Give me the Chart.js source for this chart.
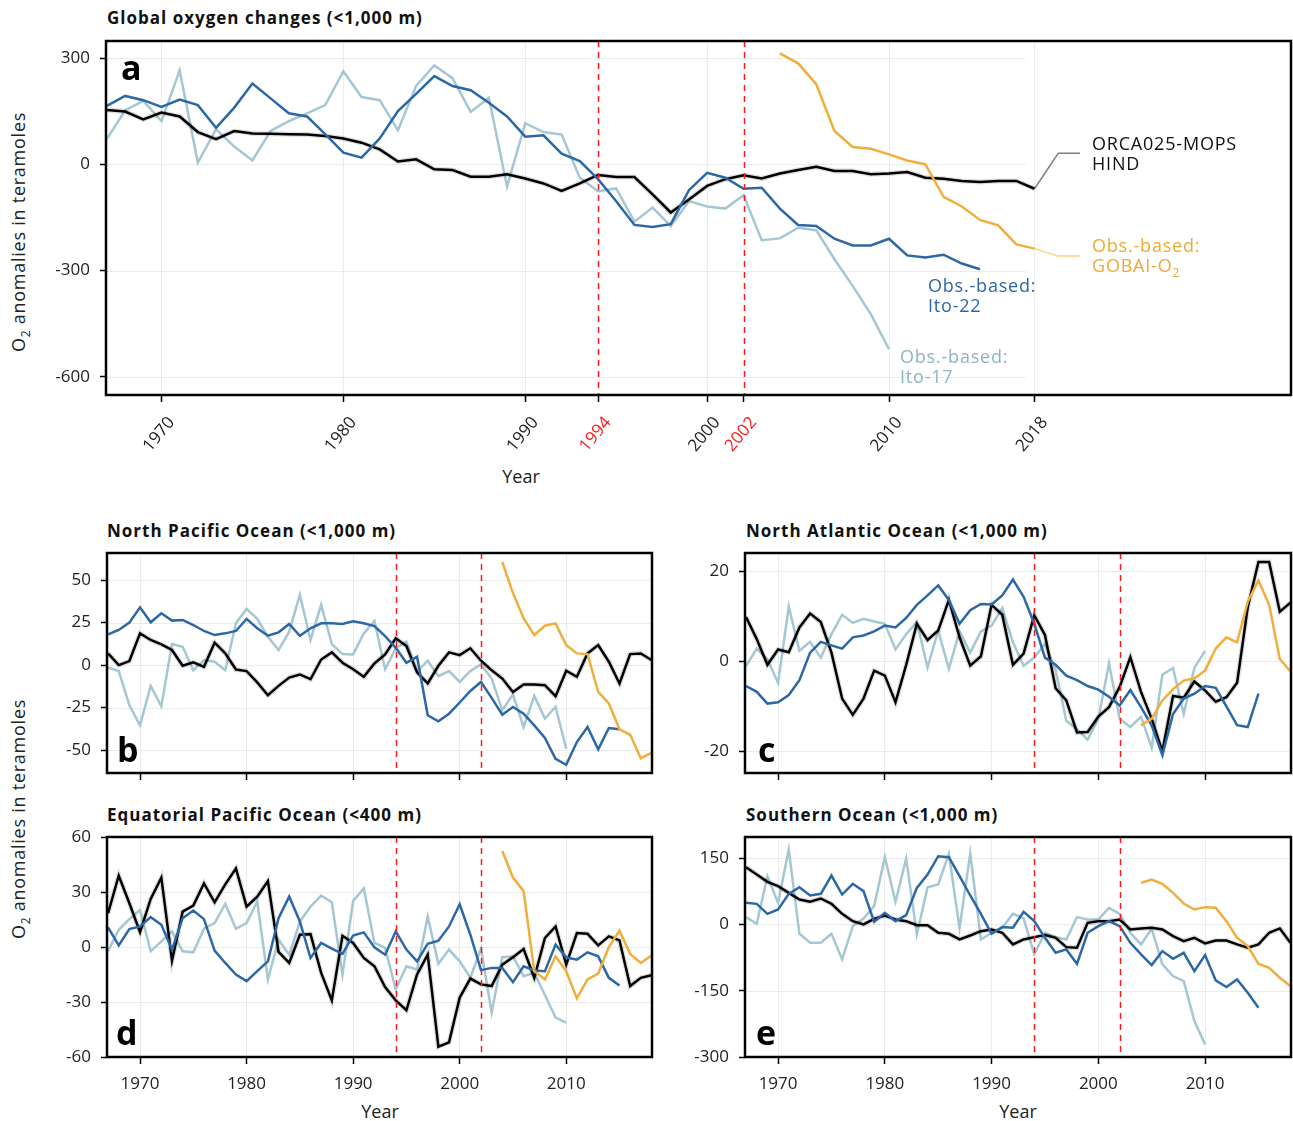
<!DOCTYPE html>
<html lang="en">
<head>
<meta charset="utf-8">
<title>Global oxygen changes</title>
<script src="https://cdn.jsdelivr.net/npm/chart.js@4.4.1/dist/chart.umd.min.js"></script>
<style>
  html, body { margin: 0; padding: 0; background: #fff; }
  #page { position: relative; width: 1293px; height: 1121px; overflow: hidden; font-family: "Open Sans", sans-serif; color: #111; }
  canvas { position: absolute; }
  .title { position: absolute; font-size: 17px; font-weight: 700; line-height: 20px; letter-spacing: 1px; white-space: nowrap; }
  .note { position: absolute; font-size: 18px; line-height: 20px; letter-spacing: 0.8px; white-space: nowrap; }
  .axis { position: absolute; font-size: 18px; line-height: 20px; white-space: nowrap; transform: translateX(-50%); color: #222; }
  .ytitle { position: absolute; width: 300px; height: 20px; text-align: center; font-size: 18px; line-height: 20px; letter-spacing: 0.75px; white-space: nowrap; transform: rotate(-90deg); color: #222; }
  sub { font-size: 12px; line-height: 0; }
</style>
</head>
<body>
<div id="page">
  <div class="title" style="left:107px;top:8px">Global oxygen changes (&lt;1,000 m)</div>
  <div class="title" style="left:107px;top:521px">North Pacific Ocean (&lt;1,000 m)</div>
  <div class="title" style="left:746px;top:521px">North Atlantic Ocean (&lt;1,000 m)</div>
  <div class="title" style="left:107px;top:805px">Equatorial Pacific Ocean (&lt;400 m)</div>
  <div class="title" style="left:746px;top:805px">Southern Ocean (&lt;1,000 m)</div>

  <canvas id="chartA" width="1257" height="416" style="left:36px;top:39px"></canvas>
  <canvas id="chartB" width="623" height="270" style="left:37px;top:543px"></canvas>
  <canvas id="chartC" width="618" height="270" style="left:675px;top:543px"></canvas>
  <canvas id="chartD" width="623" height="270" style="left:37px;top:827px"></canvas>
  <canvas id="chartE" width="618" height="270" style="left:675px;top:827px"></canvas>

  <div class="ytitle" style="left:-132px;top:222px">O<sub>2</sub> anomalies in teramoles</div>
  <div class="ytitle" style="left:-132px;top:809px">O<sub>2</sub> anomalies in teramoles</div>
  <div class="axis" style="left:521px;top:466px">Year</div>
  <div class="axis" style="left:380px;top:1101px">Year</div>
  <div class="axis" style="left:1018px;top:1101px">Year</div>

  <div class="note" style="left:1092px;top:133px;color:#111">ORCA025-MOPS<br>HIND</div>
  <div class="note" style="left:1092px;top:235px;color:#eea932">Obs.-based:<br>GOBAI-O<sub>2</sub></div>
  <div class="note" style="left:928px;top:275px;color:#2c67a6">Obs.-based:<br>Ito-22</div>
  <div class="note" style="left:900px;top:346px;color:#8db4c4">Obs.-based:<br>Ito-17</div>
</div>

<script>
// années
const years = [1967, 1968, 1969, 1970, 1971, 1972, 1973, 1974, 1975, 1976,
    1977, 1978, 1979, 1980, 1981, 1982, 1983, 1984, 1985, 1986,
    1987, 1988, 1989, 1990, 1991, 1992, 1993, 1994, 1995, 1996,
    1997, 1998, 1999, 2000, 2001, 2002, 2003, 2004, 2005, 2006,
    2007, 2008, 2009, 2010, 2011, 2012, 2013, 2014, 2015, 2016,
    2017, 2018];
const gobaiYears = [2004, 2005, 2006, 2007, 2008, 2009, 2010, 2011, 2012, 2013, 2014, 2015, 2016, 2017, 2018];
const tickYearsA = [1970, 1980, 1990, 1994, 2000, 2002, 2010, 2018];
const tickYearsB = [1970, 1980, 1990, 2000, 2010];
const redYears = [1994, 2002];

// a: global (<1000 m)
const hindA = [153, 149, 127, 146, 135, 91, 71, 94, 87, 86,
    85, 84, 80, 73, 61, 42, 8, 14, -14, -16,
    -35, -35, -28, -40, -54, -75, -54, -30, -36, -36,
    -85, -136, -99, -61, -42, -31, -40, -26, -16, -7,
    -19, -19, -28, -26, -22, -38, -41, -47, -50, -47,
    -47, -69];
const ito22A = [165, 193, 181, 162, 183, 167, 103, 160, 228, 186,
    144, 135, 85, 33, 19, 73, 150, 199, 249, 221,
    209, 174, 135, 78, 82, 30, 9, -42, -104, -171,
    -177, -169, -73, -24, -38, -69, -66, -125, -171, -174,
    -210, -229, -229, -210, -257, -263, -255, -280, -296];
const ito17A = [72, 152, 179, 122, 265, 5, 99, 50, 11, 94,
    122, 144, 167, 262, 190, 181, 96, 221, 279, 243,
    148, 188, -63, 116, 91, 84, -38, -76, -68, -162,
    -122, -174, -104, -119, -125, -87, -214, -209, -179, -186,
    -268, -343, -423, -522];
const gobaiA = [313, 285, 226, 94, 49, 44, 28, 11, 0, -92, -119, -157, -172, -226, -238];
const hindLinkX = [2018, 2019.3, 2020.5];
const hindLinkY = [-69, 31, 31];
const gobaiFadeX = [2018, 2019.3, 2020.5];
const gobaiFadeY = [-238, -259, -259];

// b: North Pacific
const hindB = [6.9, 0, 2.4, 18.7, 14.8, 12.2, 8.9, -0.4, 1.6, -1,
    13.2, 6.9, -2.6, -3.5, -10.2, -17.7, -12.2, -7.3, -5.5, -8.3,
    3.3, 7.5, 1.4, -2.4, -6.9, 1, 6.3, 15.8, 11.2, -4.3,
    -10.8, -0.4, 7.5, 5.9, 9.9, 2.6, -3, -7.9, -15.8, -11.4,
    -11.4, -11.8, -18.3, -3.3, -6.9, 6.9, 11.8, 2, -10.8, 6.5,
    6.9, 3];
const ito22B = [18.1, 20.7, 25, 34, 25.2, 30.5, 26.2, 26.6, 23.6, 20.1,
    17.7, 18.7, 20.1, 27.2, 21.7, 17.3, 19.3, 24.2, 17.3, 21.7,
    24.6, 24.6, 24.2, 25.8, 24.6, 23, 17.1, 10.2, 1.4, 4.9,
    -29.5, -33.1, -28.6, -22, -15.2, -9.9, -19.3, -29.2, -24.6, -28.6,
    -35.5, -42.9, -55.2, -58.7, -45.3, -36.4, -49.6, -37, -37.8];
const ito17B = [-1.4, -3.5, -23.6, -35.5, -12.2, -24.2, 12.4, 10.8, -3, 3,
    2, -3, 24.6, 33.1, 27.2, 16.7, 8.9, 19.7, 41.4, 14.8,
    35.5, 12.4, 6.5, 6.3, 18.7, 26, -2.4, 9.9, 13.8, -3.9,
    2.6, -6.5, -3.5, -9.9, -3.5, 0.4, -7.9, -26.6, -17.3, -36.4,
    -18.1, -31.5, -24.6, -49.2];
const gobaiB = [60.7, 42.4, 27.6, 17.7, 23.2, 24.6, 11.8, 6.9, 6.5, -15.8, -22.6, -37.8, -41, -54.8, -51.6];

// c: North Atlantic
const hindC = [9.8, 4.9, -0.8, 2.6, 2, 7.5, 10.6, 8.7, 1.9, -8.3,
    -11.9, -8.3, -2.1, -3.2, -9.1, -0.8, 8.3, 4.7, 6.8, 13.6,
    5.3, -1, 1.1, 12.5, 10.3, -0.8, 1.7, 10.2, 5.8, -6,
    -8.7, -15.8, -15.7, -12.3, -10.2, -5.7, 0.9, -6.8, -12.8, -20,
    -7.7, -8.1, -4.5, -6.5, -9, -8, -4.8, 12, 22, 22,
    11, 13];
const ito22C = [-5.5, -6.8, -9.4, -9.1, -7.5, -4.2, 1.9, 4.3, 3.5, 2.8,
    5.3, 5.7, 6.6, 7.9, 7.5, 9.6, 12.5, 14.6, 16.8, 13.6,
    8.3, 11.3, 12.7, 12.6, 14.6, 18.1, 14.3, 8.3, 0.8, -0.8,
    -3.2, -4.2, -5.5, -6.3, -7.9, -9.8, -6.4, -10.2, -14.3, -20.8,
    -11.7, -8.3, -7.2, -5.5, -5.9, -10, -14.2, -14.6, -7.2];
const ito17C = [-1.1, 2.8, 0.4, -4.8, 12.1, 2.3, 4.3, 0.8, 6, 10.3,
    8.5, 9.4, 8.8, 8.3, 2.6, 6, 8.7, -1.4, 6.8, -1.7,
    6.6, 1.9, 6.6, 7.9, 11.8, 4.2, -1, 0.8, 3.8, -1.9,
    -13.2, -15.1, -17.4, -12.8, -0.5, -12.8, -14.6, -12.3, -19.2, -3,
    -1.5, -11.7, -1.5, 2.3];
const gobaiC = [-14.2, -12.8, -8.7, -6.2, -4.3, -3.8, -2.1, 2.8, 5.3, 4.2, 13.2, 17.9, 12.5, 0.5, -2.3];

// d: Equatorial Pacific (<400 m)
const hindD = [18.4, 38.9, 23.9, 8.1, 26.2, 37.8, -7.4, 19.3, 22.6, 34.7,
    24.4, 34.2, 42.8, 22, 27.5, 36, -2.7, -8.7, 6.7, 7,
    -14.1, -29.1, 6.1, 2.2, -6, -10.5, -21.9, -29.1, -34.5, -15,
    -4.2, -54.4, -52, -27.6, -17.2, -20.4, -21.3, -9.6, -5.6, -1.1,
    -16.8, 4.9, 11.2, -9.6, 7.6, 7.2, 0.9, 5.8, 3.6, -21.3,
    -16.8, -15.4];
const ito22D = [10.7, 0.9, 9.8, 11.2, 16.3, 12.1, -1.4, 15.7, 19.9, 15.2,
    -2, -8.7, -15, -18.6, -13.2, -7.8, 15.7, 27.5, 13.9, -6,
    2.2, -0.9, -3.8, 6.3, 8, -0.2, -4.2, 8.5, -1.4, -7.8,
    1.8, 3.4, 11.2, 23.3, 6.7, -12.6, -11.4, -11.4, -19.2, -10.5,
    -12.8, -13.2, 1.3, -5.6, -6.9, -2.9, -5.1, -16.8, -21];
const ito17D = [-2.3, 9.4, 15.2, 20.2, -2.3, 3.1, 8.5, -2.3, -2.9, 10,
    13, 23.5, 10, 13, 24.8, -17.7, 4, -4.2, 13.9, 22,
    28, 24.4, -15, 25.1, 32, 2.2, -0.5, -23.1, -10.5, -12.3,
    16.6, -9.2, -1.4, -7.8, -16.8, -0.9, -35.8, -5.6, -5.1, -15.9,
    -14.1, -26.2, -38.5, -41.2];
const gobaiD = [52.4, 37.9, 30.5, -13.2, -17.7, -5.1, -13.2, -28, -17.7, -14.5, 0, 8.9, -3.8, -8.7, -4.7];

// e: Southern Ocean
const hindE = [129.7, 113, 96.5, 86.7, 71.6, 56.5, 51.3, 58.8, 46.7, 24.1,
    7.5, 0, 12.8, 20.4, 11.3, 7.5, -1.5, -1.5, -18.8, -21.1,
    -33.9, -24.9, -15.1, -11.3, -18.8, -45.2, -33.9, -28.6, -24.1, -30.2,
    -51.3, -52.8, 3.8, 7.5, 7.5, 11.3, -11.3, -9, -7.5, -11.3,
    -26.4, -37.7, -30.2, -43, -36.2, -36.2, -45.2, -52.8, -45.2, -18.8,
    -9, -41.5];
const ito22E = [49, 46.7, 24.1, 33.9, 69.3, 84.4, 65.6, 69.3, 110.8, 67.8,
    92, 75.4, 6, 26.4, 7.5, 21.1, 82.9, 113, 154.5, 152.3,
    109.3, 65.6, 24.1, -21.1, -6, -7.5, 28.6, 7.5, -30.2, -64.1,
    -56.5, -89, -18.8, -3.8, 7.5, -3.8, -41.5, -67.8, -92, -60.3,
    -77.6, -64.1, -105.5, -69.3, -126.6, -141.7, -124.4, -154.5, -188.4];
const ito17E = [16.6, 1.5, 109.3, 49, 169.6, -21.1, -41.5, -41.5, -21.1, -79.1,
    -3.8, 13.6, 41.5, 153, 51.3, 149.3, -22.6, 84.4, 90.5, 159.8,
    -9, 160.6, -33.9, -18.8, -7.5, 24.1, 13.6, -67.8, -18.8, -28.6,
    -33.9, 16.6, 11.3, 11.3, 37.7, 24.1, -18.8, -45.2, -9.8, -90.5,
    -116.8, -128.1, -218.6, -271.4];
const gobaiE = [94.2, 101.8, 92, 71.6, 47.5, 33.9, 39.2, 37.7, 7.5, -30.2, -49, -89, -98, -120.6, -139.5];

const FONT = '"Open Sans", sans-serif';
const C = {
    hind: '#000000',
    band: 'rgba(0,0,0,0.13)',
    ito22: '#2c67a6',
    ito17: '#a5c7d3',
    gobai: '#f0ae3c',
    gobaiFade: '#f8dba3',
    link: '#808080',
    grid: '#ebebeb',
    red: '#ff1a1a'
};

Chart.defaults.font.family = FONT;

function zip(xs, ys) {
    return ys.map((v, i) => ({ x: xs[i], y: v }));
}

function lineSet(data, color, width, order) {
    return { data: data, borderColor: color, borderWidth: width, pointRadius: 0, tension: 0, fill: false, order: order };
}

function panelSets(hind, ito22, ito17, gobai) {
    return [
        lineSet(zip(years, ito17), C.ito17, 2.5, 5),
        lineSet(zip(years, hind), C.band, 5, 4),
        lineSet(zip(years, hind), C.hind, 2.5, 3),
        lineSet(zip(years, ito22), C.ito22, 2.5, 2),
        lineSet(zip(gobaiYears, gobai), C.gobai, 2.5, 1)
    ];
}

// grille horizontale, lignes rouges, cadre et lettre du panneau
const framePlugin = {
    id: 'frame',
    beforeDatasetsDraw(chart, args, opts) {
        const { ctx, chartArea: a, scales: { x, y } } = chart;
        ctx.save();
        ctx.strokeStyle = C.grid;
        ctx.lineWidth = 1;
        let xEnd = a.right;
        if (opts.gridEnd) xEnd = Math.min(a.right, x.getPixelForValue(opts.gridEnd));
        y.ticks.forEach(t => {
            const py = Math.round(y.getPixelForValue(t.value)) + 0.5;
            ctx.beginPath();
            ctx.moveTo(a.left, py);
            ctx.lineTo(xEnd, py);
            ctx.stroke();
        });
        ctx.restore();
    },
    afterDatasetsDraw(chart, args, opts) {
        const { ctx, chartArea: a, scales: { x } } = chart;
        ctx.save();
        ctx.strokeStyle = C.red;
        ctx.lineWidth = 1.5;
        ctx.setLineDash([6, 5]);
        redYears.forEach(yr => {
            const px = Math.round(x.getPixelForValue(yr)) + 0.5;
            ctx.beginPath();
            ctx.moveTo(px, a.top);
            ctx.lineTo(px, a.bottom);
            ctx.stroke();
        });
        ctx.setLineDash([]);
        ctx.strokeStyle = '#000';
        ctx.lineWidth = 2.5;
        ctx.strokeRect(a.left, a.top, a.right - a.left, a.bottom - a.top);
        ctx.fillStyle = '#000';
        ctx.font = 'bold 34px ' + FONT;
        ctx.textBaseline = 'alphabetic';
        ctx.textAlign = 'left';
        ctx.fillText(opts.letter, a.left + opts.lx, a.top + opts.ly);
        ctx.restore();
    }
};

function makePanel(id, o) {
    return new Chart(document.getElementById(id), {
        type: 'line',
        data: { datasets: o.datasets },
        options: {
            responsive: false,
            animation: false,
            events: [],
            layout: { padding: o.pad },
            plugins: {
                legend: { display: false },
                tooltip: { enabled: false },
                frame: { gridEnd: o.gridEnd, letter: o.letter, lx: o.lx, ly: o.ly }
            },
            scales: {
                x: {
                    type: 'linear',
                    min: o.xMin,
                    max: o.xMax,
                    afterBuildTicks: s => { s.ticks = o.xTicks.map(v => ({ value: v })); },
                    afterFit: s => { s.height = o.xH; s.paddingLeft = 0; s.paddingRight = 0; },
                    border: { display: false },
                    grid: {
                        color: c => (c.tick && redYears.includes(c.tick.value)) ? 'rgba(0,0,0,0)' : C.grid,
                        lineWidth: 1,
                        tickColor: '#000',
                        tickLength: 7,
                        tickWidth: 1.5
                    },
                    ticks: {
                        display: o.xLabels,
                        autoSkip: false,
                        color: c => redYears.includes(c.tick.value) ? C.red : '#222',
                        font: { family: FONT, size: 17 },
                        minRotation: o.rot,
                        maxRotation: o.rot,
                        labelOffset: o.labelOffset,
                        padding: o.xPad,
                        callback: v => String(v)
                    }
                },
                y: {
                    min: o.yMin,
                    max: o.yMax,
                    afterBuildTicks: s => { s.ticks = o.yTicks.map(v => ({ value: v })); },
                    afterFit: s => { s.width = 70; s.paddingTop = 0; s.paddingBottom = 0; },
                    border: { display: false },
                    grid: { drawOnChartArea: false, tickColor: '#000', tickLength: 6, tickWidth: 1.5 },
                    ticks: { color: '#222', font: { family: FONT, size: 17 }, padding: 10, callback: v => String(v) }
                }
            }
        },
        plugins: [framePlugin]
    });
}

const setsA = panelSets(hindA, ito22A, ito17A, gobaiA);
setsA.push(lineSet(zip(hindLinkX, hindLinkY), C.link, 1.5, 6));
setsA.push(lineSet(zip(gobaiFadeX, gobaiFadeY), C.gobaiFade, 2, 6));

makePanel('chartA', {
    datasets: setsA, pad: { top: 2, right: 2, left: 0, bottom: 0 },
    xMin: 1966.95, xMax: 2032.1, xTicks: tickYearsA, xH: 60, xLabels: true, rot: 50, labelOffset: 10, xPad: 11,
    yMin: -651, yMax: 348, yTicks: [-600, -300, 0, 300],
    gridEnd: 2017.5, letter: 'a', lx: 15, ly: 39
});

const bottom = { xMin: 1966.9, xMax: 2018.05, xTicks: tickYearsB, xH: 40, rot: 0, labelOffset: 0, xPad: 10 };

makePanel('chartB', Object.assign({}, bottom, {
    datasets: panelSets(hindB, ito22B, ito17B, gobaiB), pad: { top: 10, right: 8, left: 0, bottom: 0 },
    xLabels: false, yMin: -63.5, yMax: 66, yTicks: [-50, -25, 0, 25, 50],
    letter: 'b', lx: 10, ly: 209
}));
makePanel('chartC', Object.assign({}, bottom, {
    datasets: panelSets(hindC, ito22C, ito17C, gobaiC), pad: { top: 10, right: 2, left: 0, bottom: 0 },
    xLabels: false, yMin: -24.8, yMax: 24, yTicks: [-20, 0, 20],
    letter: 'c', lx: 13, ly: 209
}));
makePanel('chartD', Object.assign({}, bottom, {
    datasets: panelSets(hindD, ito22D, ito17D, gobaiD), pad: { top: 10, right: 8, left: 0, bottom: 0 },
    xLabels: true, yMin: -60, yMax: 60, yTicks: [-60, -30, 0, 30, 60],
    letter: 'd', lx: 9, ly: 208
}));
makePanel('chartE', Object.assign({}, bottom, {
    datasets: panelSets(hindE, ito22E, ito17E, gobaiE), pad: { top: 10, right: 2, left: 0, bottom: 0 },
    xLabels: true, yMin: -300, yMax: 198, yTicks: [-300, -150, 0, 150],
    letter: 'e', lx: 11, ly: 208
}));
</script>
</body>
</html>
